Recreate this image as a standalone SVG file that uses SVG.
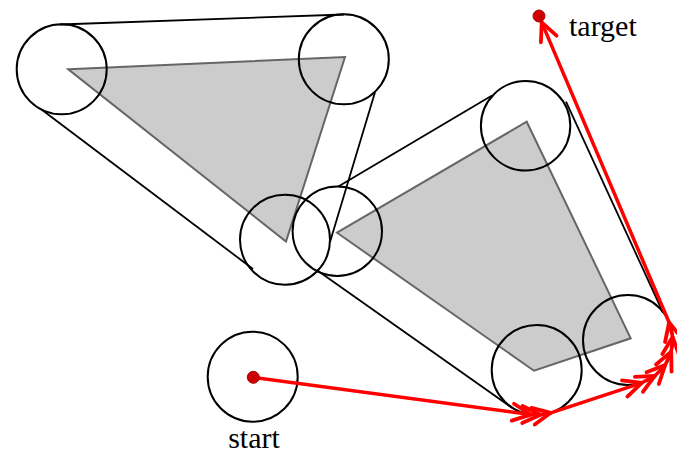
<svg xmlns="http://www.w3.org/2000/svg" width="677" height="455" viewBox="0 0 677 455">
<style>
.obst{fill:#cccccc;stroke:#666666;stroke-width:2;stroke-linejoin:miter}
.disk{fill:none;stroke:#000;stroke-width:2}
.hull{stroke:#000;stroke-width:1.8;fill:none}
.path{stroke:#ff0000;stroke-width:3.5;fill:none;stroke-linecap:round;marker-end:url(#ah)}
.pt{fill:#cc0000;stroke:#b00000;stroke-width:1}
.lbl{font-family:"Liberation Serif","Times New Roman",serif;font-size:30px;fill:#000}
</style>
<defs>
<marker id="ah" markerUnits="userSpaceOnUse" markerWidth="40" markerHeight="40" refX="0" refY="0" orient="auto" overflow="visible">
<path d="M-18,-8.5 L0,0 L-18,8.5" fill="none" stroke="#ff0000" stroke-width="3.8" stroke-linecap="round" stroke-linejoin="round"/>
</marker>
</defs>
<rect width="677" height="455" fill="#fff"/>
<g id="obstacle1">
<polygon class="obst" points="68.3,69.3 345,57 286,241.5"/>
</g>
<g id="obstacle2">
<polygon class="obst" points="337,232.7 526.7,121.7 630.7,338.3 534,370.7"/>
</g>
<g id="cspace1">
<circle class="disk" cx="61.7" cy="69.3" r="45"/>
<circle class="disk" cx="343.8" cy="59.3" r="45"/>
<circle class="disk" cx="285" cy="239.7" r="45"/>
<line class="hull" x1="60" y1="24.5" x2="344" y2="14.5"/>
<line class="hull" x1="375" y1="92.3" x2="330" y2="242"/>
<line class="hull" x1="41.5" y1="109.5" x2="253" y2="269"/>
</g>
<g id="cspace2">
<circle class="disk" cx="337.3" cy="231.2" r="44.7"/>
<circle class="disk" cx="525.6" cy="125.8" r="44.7"/>
<circle class="disk" cx="628" cy="340" r="45"/>
<circle class="disk" cx="536.7" cy="370" r="45"/>
<line class="hull" x1="338.3" y1="186.5" x2="492" y2="95.5"/>
<line class="hull" x1="566" y1="101.7" x2="663" y2="312.5"/>
<line class="hull" x1="316.7" y1="270" x2="513" y2="408.5"/>
</g>
<g id="start">
<circle class="disk" cx="252.7" cy="376.7" r="45"/>
<text class="lbl" x="254" y="448" text-anchor="middle">start</text>
</g>
<g id="target">
<text class="lbl" x="569" y="36">target</text>
</g>
<g id="connectors">
<line class="path" x1="253.3" y1="377.3" x2="530.7" y2="414.6"/>
<line class="path" x1="530.7" y1="414.6" x2="540.4" y2="414.8"/>
<line class="path" x1="540.4" y1="414.8" x2="550.8" y2="412.8"/>
<line class="path" x1="550.8" y1="412.8" x2="641.8" y2="382.8"/>
<line class="path" x1="641.8" y1="382.8" x2="654.8" y2="375.9"/>
<line class="path" x1="654.8" y1="375.9" x2="665.1" y2="365.1"/>
<line class="path" x1="665.1" y1="365.1" x2="671.2" y2="351.6"/>
<line class="path" x1="671.2" y1="351.6" x2="672.6" y2="336.9"/>
<line class="path" x1="672.6" y1="336.9" x2="669.1" y2="322.5"/>
<line class="path" x1="669.1" y1="322.5" x2="541.7" y2="22.4"/>
</g>
<circle class="pt" cx="253.3" cy="377.3" r="6"/>
<circle class="pt" cx="539" cy="16" r="6"/>
</svg>
